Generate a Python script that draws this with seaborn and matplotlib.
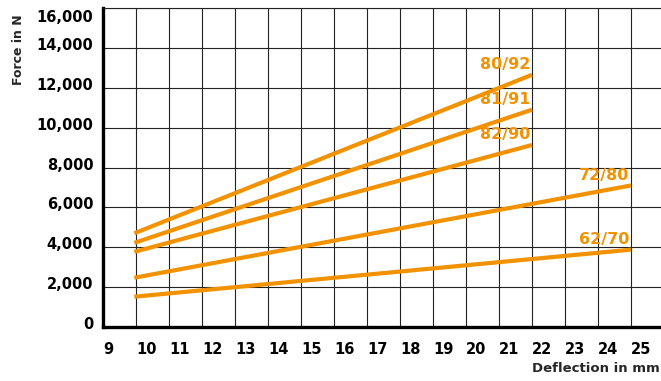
import matplotlib
matplotlib.use("Agg")
import matplotlib.pyplot as plt
import matplotlib.transforms as mtransforms
import seaborn as sns
import pandas as pd

# ---- data ----
series_names = ["80/92", "81/91", "82/90", "72/80", "62/70"]
deflection_start = [9.95, 9.95, 9.95, 9.95, 9.95]
deflection_end = [22.0, 22.0, 22.0, 25.0, 25.0]
force_start = [4700, 4220, 3770, 2470, 1520]
force_end = [12650, 10900, 9130, 7100, 3880]

x_ticks = list(range(9, 26))
y_ticks = [0, 2000, 4000, 6000, 8000, 10000, 12000, 14000, 16000]
y_tick_labels = ["0", "2,000", "4,000", "6,000", "8,000", "10,000", "12,000", "14,000", "16,000"]

ORANGE = "#F39200"

rows = []
for name, x0, x1, y0, y1 in zip(series_names, deflection_start, deflection_end, force_start, force_end):
    rows.append({"series": name, "deflection": x0, "force": y0})
    rows.append({"series": name, "deflection": x1, "force": y1})
df = pd.DataFrame(rows)

sns.set_theme(style="white")
plt.rcParams["font.family"] = ["DejaVu Sans"]

fig = plt.figure(figsize=(6.61, 3.81), dpi=100)
W, H = 661, 381
ax = fig.add_axes([103 / W, (H - 327) / H, (W - 103) / W, (327 - 8) / H])

sns.lineplot(data=df, x="deflection", y="force", hue="series",
             palette={n: ORANGE for n in series_names}, linewidth=3.0,
             legend=False, ax=ax, sort=False, estimator=None)
for line in ax.lines:
    line.set_solid_capstyle("butt")

ax.set_xlim(9, 9 + (W - 103) / 33.0)
ax.set_ylim(0, 16000)
ax.set_xticks(x_ticks)
ax.set_xticklabels([str(v) for v in x_ticks], fontsize=10.5, fontweight="bold", ha="left")
ax.set_yticks(y_ticks)
ax.set_yticklabels(y_tick_labels, fontsize=10.5, fontweight="bold")
ax.tick_params(axis="both", length=0, colors="black")
ax.tick_params(axis="x", pad=11)
ax.tick_params(axis="y", pad=7)

# shift y labels slightly upward, top label downward
for lbl, v in zip(ax.get_yticklabels(), y_ticks):
    dy = -8 / 72 if v == 16000 else 4 / 72
    lbl.set_transform(lbl.get_transform() + mtransforms.ScaledTranslation(0, dy * 0.72, fig.dpi_scale_trans))

ax.grid(True, color="#222222", linewidth=0.8)
ax.set_axisbelow(True)
for s in ["left", "bottom"]:
    ax.spines[s].set_visible(True)
    ax.spines[s].set_color("black")
    ax.spines[s].set_linewidth(2.4)
ax.spines["top"].set_visible(True)
ax.spines["top"].set_color("#222222")
ax.spines["top"].set_linewidth(0.8)
ax.spines["right"].set_visible(False)

ax.set_xlabel("")
ax.set_ylabel("")

# series labels at line ends
for name, x1, y1 in zip(series_names, deflection_end, force_end):
    ax.annotate(name, xy=(x1, y1), xytext=(-1, 2), textcoords="offset points",
                ha="right", va="bottom", color=ORANGE, fontsize=11.5, fontweight="bold")

fig.text(18 / W, 1 - 50 / H, "Force in N", rotation=90, ha="center", va="center",
         fontsize=9, fontweight="bold")
fig.text(1 - 1 / W, 1 - 369 / H, "Deflection in mm", ha="right", va="center",
         fontsize=9.5, fontweight="bold")

fig.savefig("out.png", dpi=100)
